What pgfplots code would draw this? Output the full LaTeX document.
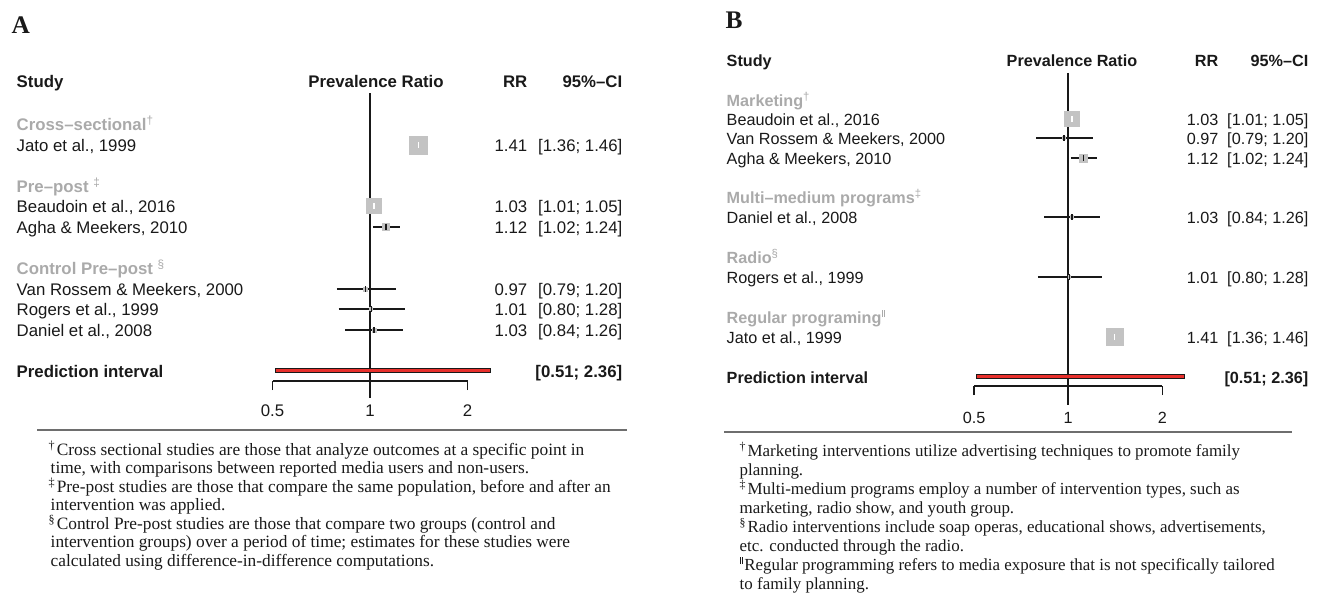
\documentclass[border=0pt]{standalone}
\usepackage{pgfplots}
\pgfplotsset{compat=1.18}
\usepackage{fontspec}
\setmainfont{Liberation Sans}
\newfontfamily\notefont{Liberation Serif}

\definecolor{boxgray}{RGB}{195,195,195}
\definecolor{subgray}{RGB}{170,170,170}
\definecolor{predred}{RGB}{232,48,44}
\definecolor{ink}{RGB}{25,25,25}
\definecolor{rulegray}{RGB}{110,110,110}

\newcommand{\fA}{\fontsize{12.6}{15}\selectfont}
\newcommand{\fB}{\fontsize{12.15}{14.5}\selectfont}
\newcommand{\fNA}{\notefont\fontsize{13}{15}\selectfont}
\newcommand{\fNB}{\notefont\fontsize{12.7}{15}\selectfont}
\newcommand{\dbar}{\rule{0.45pt}{0.62em}\kern0.12em\rule{0.45pt}{0.62em}}
\newcommand{\sub}[1]{{\bfseries\color{subgray}#1}}

% one study: y, RR, lower, upper, half box size (pt), CI colour, half tick (pt)
\newcommand{\study}[7]{%
  \addplot[only marks, boxgray, mark=square*, mark size=#5pt, mark options={boxgray, line width=0pt}] coordinates {(#2,#1)};
  \addplot[#6, line width=1pt] coordinates {(#3,#1) (#4,#1)};
  \addplot[only marks, #6, mark=|, mark size=#7pt, mark options={#6, line width=1pt}] coordinates {(#2,#1)};
}

\begin{document}
\begin{tikzpicture}[text=ink]
\useasboundingbox (0,0) rectangle (997.5pt,-444pt);

\begin{scope}[x=0.75pt, y=0.75pt]
% ---------------- Panel A text ----------------
\node[anchor=base west, font=\notefont\bfseries\fontsize{19}{22}\selectfont] at (7,-34) {A};
\begin{scope}[font=\fA]
\node[anchor=base west, font=\fA\bfseries] at (12,-88) {Study};
\node[anchor=base, font=\fA\bfseries] at (376,-88) {Prevalence Ratio};
\node[anchor=base east, font=\fA\bfseries] at (532,-88) {RR};
\node[anchor=base east, font=\fA\bfseries] at (627,-88) {95\%–CI};

\node[anchor=base west] at (12,-130) {\sub{Cross–sectional\textsuperscript{\mdseries †}}};
\node[anchor=base west] at (12,-151) {Jato et al., 1999};
\node[anchor=base east] at (532,-151) {1.41};
\node[anchor=base east] at (627,-151) {[1.36; 1.46]};

\node[anchor=base west] at (12,-192) {\sub{Pre–post \textsuperscript{\mdseries ‡}}};
\node[anchor=base west] at (12,-212) {Beaudoin et al., 2016};
\node[anchor=base east] at (532,-212) {1.03};
\node[anchor=base east] at (627,-212) {[1.01; 1.05]};
\node[anchor=base west] at (12,-233) {Agha \& Meekers, 2010};
\node[anchor=base east] at (532,-233) {1.12};
\node[anchor=base east] at (627,-233) {[1.02; 1.24]};

\node[anchor=base west] at (12,-274) {\sub{Control Pre–post \textsuperscript{\mdseries §}}};
\node[anchor=base west] at (12,-295) {Van Rossem \& Meekers, 2000};
\node[anchor=base east] at (532,-295) {0.97};
\node[anchor=base east] at (627,-295) {[0.79; 1.20]};
\node[anchor=base west] at (12,-315) {Rogers et al., 1999};
\node[anchor=base east] at (532,-315) {1.01};
\node[anchor=base east] at (627,-315) {[0.80; 1.28]};
\node[anchor=base west] at (12,-336) {Daniel et al., 2008};
\node[anchor=base east] at (532,-336) {1.03};
\node[anchor=base east] at (627,-336) {[0.84; 1.26]};

\node[anchor=base west, font=\fA\bfseries] at (12,-377) {Prediction interval};
\node[anchor=base east, font=\fA\bfseries] at (627,-377) {[0.51; 2.36]};

\node[anchor=base] at (272.5,-416) {0.5};
\node[anchor=base] at (370,-416) {1};
\node[anchor=base] at (467.5,-416) {2};
\end{scope}

\draw[rulegray, line width=1.5pt] (37,-430) -- (627,-430);
\begin{scope}[font=\fNA]
\node[anchor=base west] at (44,-455) {\textsuperscript{†}\kern1pt Cross sectional studies are those that analyze outcomes at a specific point in};
\node[anchor=base west] at (46,-473.5) {time, with comparisons between reported media users and non-users.};
\node[anchor=base west] at (44,-492) {\textsuperscript{‡}\kern1pt Pre-post studies are those that compare the same population, before and after an};
\node[anchor=base west] at (46,-510.5) {intervention was applied.};
\node[anchor=base west] at (44,-529) {\textsuperscript{§}\kern1pt Control Pre-post studies are those that compare two groups (control and};
\node[anchor=base west] at (46,-547.5) {intervention groups) over a period of time; estimates for these studies were};
\node[anchor=base west] at (46,-566) {calculated using difference-in-difference computations.};
\end{scope}

% ---------------- Panel B text ----------------
\node[anchor=base west, font=\notefont\bfseries\fontsize{19}{22}\selectfont] at (721,-29) {B};
\begin{scope}[font=\fB]
\node[anchor=base west, font=\fB\bfseries] at (722,-67) {Study};
\node[anchor=base, font=\fB\bfseries] at (1072,-67) {Prevalence Ratio};
\node[anchor=base east, font=\fB\bfseries] at (1223,-67) {RR};
\node[anchor=base east, font=\fB\bfseries] at (1313,-67) {95\%–CI};

\node[anchor=base west] at (722,-106) {\sub{Marketing\textsuperscript{\mdseries †}}};
\node[anchor=base west] at (722,-125) {Beaudoin et al., 2016};
\node[anchor=base east] at (1223,-125) {1.03};
\node[anchor=base east] at (1313,-125) {[1.01; 1.05]};
\node[anchor=base west] at (722,-144) {Van Rossem \& Meekers, 2000};
\node[anchor=base east] at (1223,-144) {0.97};
\node[anchor=base east] at (1313,-144) {[0.79; 1.20]};
\node[anchor=base west] at (722,-164) {Agha \& Meekers, 2010};
\node[anchor=base east] at (1223,-164) {1.12};
\node[anchor=base east] at (1313,-164) {[1.02; 1.24]};

\node[anchor=base west] at (722,-203) {\sub{Multi–medium programs\textsuperscript{\mdseries ‡}}};
\node[anchor=base west] at (722,-223) {Daniel et al., 2008};
\node[anchor=base east] at (1223,-223) {1.03};
\node[anchor=base east] at (1313,-223) {[0.84; 1.26]};

\node[anchor=base west] at (722,-263) {\sub{Radio\textsuperscript{\mdseries §}}};
\node[anchor=base west] at (722,-283) {Rogers et al., 1999};
\node[anchor=base east] at (1223,-283) {1.01};
\node[anchor=base east] at (1313,-283) {[0.80; 1.28]};

\node[anchor=base west] at (722,-323) {\sub{Regular programing\textsuperscript{\mdseries\dbar}}};
\node[anchor=base west] at (722,-343) {Jato et al., 1999};
\node[anchor=base east] at (1223,-343) {1.41};
\node[anchor=base east] at (1313,-343) {[1.36; 1.46]};

\node[anchor=base west, font=\fB\bfseries] at (722,-383) {Prediction interval};
\node[anchor=base east, font=\fB\bfseries] at (1313,-383) {[0.51; 2.36]};

\node[anchor=base] at (974,-423) {0.5};
\node[anchor=base] at (1068,-423) {1};
\node[anchor=base] at (1162.3,-423) {2};
\end{scope}

\draw[rulegray, line width=1.5pt] (724,-432) -- (1292,-432);
\begin{scope}[font=\fNB]
\node[anchor=base west] at (735,-456) {\textsuperscript{†}\kern1pt Marketing interventions utilize advertising techniques to promote family};
\node[anchor=base west] at (735,-475) {planning.};
\node[anchor=base west] at (735,-494) {\textsuperscript{‡}\kern1pt Multi-medium programs employ a number of intervention types, such as};
\node[anchor=base west] at (735,-513) {marketing, radio show, and youth group.};
\node[anchor=base west] at (735,-532) {\textsuperscript{§}\kern1pt Radio interventions include soap operas, educational shows, advertisements,};
\node[anchor=base west] at (735,-551) {etc. conducted through the radio.};
\node[anchor=base west] at (735,-570) {\textsuperscript{\dbar}\kern1pt Regular programming refers to media exposure that is not specifically tailored};
\node[anchor=base west] at (735,-589) {to family planning.};
\end{scope}
\end{scope}

% ---------------- Panel A forest ----------------
\begin{axis}[at={(204.375pt,-285.75pt)}, anchor=south west,
  scale only axis, width=146.25pt, height=225.75pt,
  xmode=log, log basis x=2, xmin=0.5, xmax=2, ymin=-381, ymax=-80,
  axis x line*=bottom, axis y line=none,
  xtick={0.5,1,2}, xticklabels={,,}, tick align=outside,
  major tick length=6.75pt,
  axis line style={line width=1pt, ink},
  tick style={line width=1pt, ink},
  clip=false]
  \addplot[ink, line width=1pt] coordinates {(1,-93) (1,-398)};
  \study{-145}{1.41}{1.36}{1.46}{6.75}{white}{2.2}
  \study{-206}{1.03}{1.01}{1.05}{5.6}{white}{2.2}
  \study{-227}{1.12}{1.02}{1.24}{2.6}{ink}{2.6}
  \study{-289}{0.97}{0.79}{1.20}{1.5}{ink}{2.2}
  \study{-309}{1.01}{0.80}{1.28}{1.1}{ink}{2.2}
  \study{-330}{1.03}{0.84}{1.26}{1.5}{ink}{2.2}
  % prediction interval
  \addplot[fill=predred, draw=ink, line width=0.7pt]
    coordinates {(0.51,-368) (2.36,-368) (2.36,-372) (0.51,-372) (0.51,-368)};
\end{axis}

% ---------------- Panel B forest ----------------
\begin{axis}[at={(730.5pt,-289.5pt)}, anchor=south west,
  scale only axis, width=141.2pt, height=244.5pt,
  xmode=log, log basis x=2, xmin=0.5, xmax=2, ymin=-386, ymax=-60,
  axis x line*=bottom, axis y line=none,
  xtick={0.5,1,2}, xticklabels={,,}, tick align=outside,
  major tick length=6.75pt,
  axis line style={line width=1pt, ink},
  tick style={line width=1pt, ink},
  clip=false]
  \addplot[ink, line width=1pt] coordinates {(1,-73) (1,-405)};
  \study{-119}{1.03}{1.01}{1.05}{5.4}{white}{2.2}
  \study{-138}{0.97}{0.79}{1.20}{1.1}{ink}{2.2}
  \study{-158}{1.12}{1.02}{1.24}{3.0}{ink}{2.6}
  \study{-217}{1.03}{0.84}{1.26}{1.1}{ink}{2.2}
  \study{-277}{1.01}{0.80}{1.28}{1.1}{ink}{2.2}
  \study{-337}{1.41}{1.36}{1.46}{6.4}{white}{2.2}
  % prediction interval
  \addplot[fill=predred, draw=ink, line width=0.7pt]
    coordinates {(0.51,-374) (2.36,-374) (2.36,-378) (0.51,-378) (0.51,-374)};
\end{axis}
\end{tikzpicture}
\end{document}
